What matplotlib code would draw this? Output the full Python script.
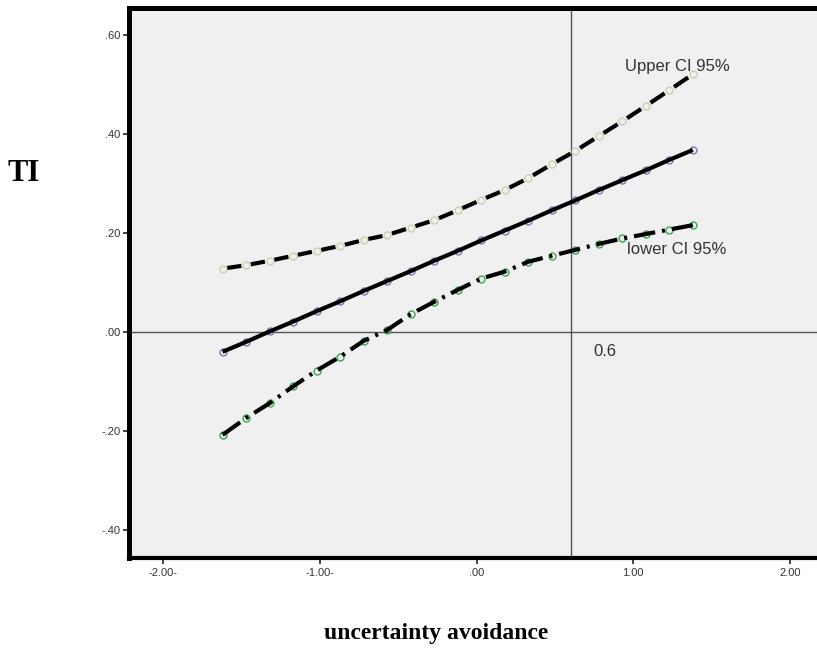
#!/usr/bin/env python3
# -*- coding: utf-8 -*-
"""
Simple slope of TI on uncertainty avoidance with 95% CI bands
"""

import numpy as np
import matplotlib
matplotlib.use("Agg")
import matplotlib.pyplot as plt
from matplotlib.collections import LineCollection

# Data
ua_values = [-1.62, -1.47, -1.32, -1.17, -1.02, -0.87, -0.72, -0.57, -0.42, -0.27, -0.12,
             0.03, 0.18, 0.33, 0.48, 0.63, 0.78, 0.93, 1.08, 1.23, 1.38]
ti_fit = [-0.040, -0.020, 0.001, 0.021, 0.042, 0.062, 0.083, 0.103, 0.123, 0.144, 0.164,
          0.185, 0.205, 0.225, 0.246, 0.266, 0.287, 0.307, 0.327, 0.348, 0.368]
ti_upper = [0.128, 0.135, 0.144, 0.154, 0.164, 0.174, 0.186, 0.196, 0.211, 0.226, 0.246,
            0.267, 0.287, 0.311, 0.339, 0.366, 0.396, 0.426, 0.457, 0.489, 0.521]
ti_lower = [-0.208, -0.174, -0.144, -0.110, -0.078, -0.050, -0.018, 0.004, 0.036, 0.061, 0.085,
            0.108, 0.122, 0.142, 0.154, 0.166, 0.178, 0.189, 0.198, 0.207, 0.216]

x_ticks = [-2.0, -1.0, 0.0, 1.0, 2.0]
x_tick_labels = ['-2.00-', '-1.00-', '.00', '1.00', '2.00']
y_ticks = [-0.4, -0.2, 0.0, 0.2, 0.4, 0.6]
y_tick_labels = ['-.40', '-.20', '.00', '.20', '.40', '.60']

ref_x = 0.6
ref_y = 0.0

plt.rcParams['lines.scale_dashes'] = False
plt.rcParams['font.family'] = ['Liberation Sans', 'DejaVu Sans']


def draw_chart():
    fig = plt.figure(figsize=(8.17, 6.49), dpi=100)
    ax = fig.add_axes([129 / 817, 91 / 649, 1 - 129 / 817, 550 / 649])
    ax.set_facecolor('#f0f0f0')

    x = np.array(ua_values)
    up = np.array(ti_upper)
    lo = np.array(ti_lower)
    fit = np.array(ti_fit)

    # duong tham chieu
    ax.axhline(ref_y, color='#555555', lw=1.0, zorder=1)
    ax.axvline(ref_x, color='#555555', lw=1.0, zorder=1)

    # markers (ve duoi cac duong)
    ax.plot(x, fit, 'o', ms=5, mfc='none', mec='#7a7ab4', mew=1.0, zorder=2)
    ax.plot(x, up, 'o', ms=5, mfc='none', mec='#cfcfaa', mew=1.0, zorder=2)
    ax.plot(x, lo, 'o', ms=5, mfc='none', mec='#3aa655', mew=1.0, zorder=2)

    # duong hoi quy
    ax.plot(x, fit, color='black', lw=3, solid_capstyle='butt', zorder=3)

    # upper CI: mot net gach cho moi doan giua hai diem
    segs = []
    for i in range(len(x) - 1):
        x0, y0, x1, y1 = x[i], up[i], x[i + 1], up[i + 1]
        segs.append([(x0 + 0.2 * (x1 - x0), y0 + 0.2 * (y1 - y0)),
                     (x0 + 0.8 * (x1 - x0), y0 + 0.8 * (y1 - y0))])
    lc = LineCollection(segs, colors='black', linewidths=3, capstyle='butt', zorder=3)
    ax.add_collection(lc)

    # lower CI: gach-cham
    ax.plot(x, lo, color='black', lw=3, dash_capstyle='butt',
            linestyle=(0, (15.5, 5.0, 2.2, 5.0)), zorder=3)

    ax.text(0.947, 0.537, 'Upper CI 95%', fontsize=12, color='#333333',
            ha='left', va='center', zorder=4)
    ax.text(0.96, 0.166, 'lower CI 95%', fontsize=12, color='#333333',
            ha='left', va='center', zorder=4)
    ax.text(0.743, -0.040, '0.6', fontsize=12, color='#333333',
            ha='left', va='center', zorder=4)

    ax.set_xlim(-2.217, 2.172)
    ax.set_ylim(-0.457, 0.655)
    ax.set_xticks(x_ticks)
    ax.set_xticklabels(x_tick_labels)
    ax.set_yticks(y_ticks)
    ax.set_yticklabels(y_tick_labels)
    ax.tick_params(axis='both', labelsize=8, labelcolor='#333333', color='#222222',
                   direction='out')
    ax.tick_params(axis='x', length=4, width=1.2, pad=3)
    ax.tick_params(axis='y', length=4, width=1.2, pad=2)

    ax.spines['right'].set_visible(False)
    ax.spines['left'].set_linewidth(3.6)
    ax.spines['top'].set_linewidth(3.6)
    ax.spines['bottom'].set_linewidth(3.0)
    for s in ['left', 'top', 'bottom']:
        ax.spines[s].set_color('black')

    serif = ['Liberation Serif', 'DejaVu Serif']
    fig.text(24 / 817, 1 - 173 / 649, 'TI', family=serif, fontsize=22,
             fontweight='bold', ha='center', va='center')
    fig.text(436 / 817, 1 - 634 / 649, 'uncertainty avoidance', family=serif,
             fontsize=17, fontweight='bold', ha='center', va='center')

    fig.savefig('out.png', dpi=100)


if __name__ == "__main__":
    draw_chart()
